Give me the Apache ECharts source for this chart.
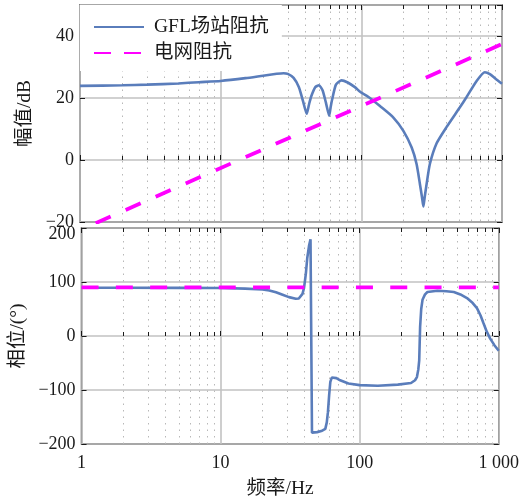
<!DOCTYPE html>
<html>
<head>
<meta charset="utf-8">
<script src="https://cdn.jsdelivr.net/npm/echarts@6/dist/echarts.min.js"></script>
<style>
  html, body { margin: 0; padding: 0; background: #fff; }
  #chart { width: 522px; height: 502px; }
</style>
</head>
<body>
<div id="chart"></div>
<script>
// Bode plot: GFL station impedance vs. grid impedance

// Magnitude of the GFL station impedance (Hz, dB)
const freqMag = [1, 2, 3, 5, 7, 10, 15, 20, 25, 28, 30, 33, 36, 38.5, 40.9, 42.5, 44, 47, 50, 53,
  56, 59.1, 60.5, 62, 66, 72.4, 80, 90, 98, 115, 135.6, 169, 199, 228, 247, 261, 270, 276, 282, 291,
  307, 343, 403, 502, 560, 660, 755, 820, 900, 1000];
const magGFL = [23.9, 24.1, 24.3, 24.7, 25.1, 25.5, 26.4, 27.2, 27.8, 28.0, 27.8, 26.5, 23.5, 19.0, 14.9, 18.0, 20.5, 23.5, 24.1, 22.5,
  18.5, 14.3, 17.0, 19.5, 24.3, 25.7, 25.0, 23.5, 22.0, 20.0, 17.4, 13.7, 9.4, 4.0, -1.3, -7.8, -12.0, -15.0, -12.0, -7.8,
  -1.3, 5.4, 10.6, 17.0, 20.3, 25.5, 28.3, 27.7, 26.2, 24.6];

// Phase of the GFL station impedance (Hz, degrees)
const freqPh = [1, 2, 5, 10, 15, 20, 22.4, 25, 27.9, 31, 34.7, 36.5, 37.7, 38.8, 39.8, 41, 42, 43.3, 44.3, 44.9,
  45.4, 49.4, 53, 56.6, 58, 59.1, 60.3, 61.5, 63, 64.9, 68, 72.4, 83, 100, 135, 188, 234, 250, 258, 264,
  268, 272, 277, 283, 295, 307, 362, 420, 475, 530, 591, 650, 697, 740, 777, 820, 866, 930, 1000];
const phaseGFL = [89.4, 89.4, 89.2, 89.0, 87.8, 86.0, 84.4, 81.0, 76.4, 72.0, 68.9, 69.5, 71.3, 78.0, 89.0, 115, 145, 168, 179, 180,
  -179, -178, -176, -172, -160, -141, -110, -85, -77, -75.8, -78, -82, -88, -91, -92, -90, -87, -82, -76, -62,
  -45, 17, 50, 67, 77, 81.4, 83.8, 83, 81.4, 77, 70.2, 61, 51.6, 38, 23.6, 8, -4.3, -17, -27.4];

// Grid impedance (purely inductive)
const freqGrid = [1, 1000];
const magGrid = [-22.6, 37.4];
const phaseGrid = [90, 90];

// Axis ticks
const minorFreqTicks = [2, 3, 4, 5, 6, 7, 8, 9, 20, 30, 40, 50, 60, 70, 80, 90, 200, 300, 400, 500, 600, 700, 800, 900];
const seriesNames = ['GFL场站阻抗', '电网阻抗'];

const pairs = (xs, ys) => xs.map((x, i) => [x, ys[i]]);

const SERIF = '"Liberation Serif", "Times New Roman", "Noto Sans CJK SC", serif';
const INK = '#1a1a1a';
const BLUE = '#5a7dbb';
const MAGENTA = '#ff00ff';
const tickLabel = { fontFamily: SERIF, fontSize: 18, color: INK };
const nameStyle = { fontFamily: SERIF, fontSize: 19.5, color: INK };
const minus = v => String(v).replace('-', '\u2212');

function freqAxes(gi, withLabels) {
  const base = { type: 'log', logBase: 10, gridIndex: gi, min: 1, max: 1000, axisLine: { show: false } };
  return [
    Object.assign({}, base, {
      position: 'bottom',
      axisTick: { show: true, inside: true, length: 5, lineStyle: { color: INK, width: 1 } },
      splitLine: { show: true, lineStyle: { color: '#c2c2c2', width: 1.6 } },
      axisLabel: {
        show: withLabels, margin: 10, ...tickLabel,
        formatter: v => (Math.round(v) === 1000 ? '1 000' : String(Math.round(v)))
      },
      name: withLabels ? '频率/Hz' : '',
      nameLocation: 'middle',
      nameGap: 35,
      nameTextStyle: Object.assign({ padding: [0, 20, 0, 0] }, nameStyle)
    }),
    Object.assign({}, base, {
      position: 'bottom',
      axisTick: { show: true, inside: true, length: 4, customValues: minorFreqTicks, lineStyle: { color: INK, width: 1 } },
      splitLine: { show: true, lineStyle: { color: '#b8b8b8', width: 1, type: [1.5, 5] } },
      axisLabel: { show: false }
    }),
    Object.assign({}, base, {
      position: 'top',
      axisTick: { show: true, inside: true, length: 5, lineStyle: { color: INK, width: 1 } },
      splitLine: { show: false },
      axisLabel: { show: false }
    }),
    Object.assign({}, base, {
      position: 'top',
      axisTick: { show: true, inside: true, length: 4, customValues: minorFreqTicks, lineStyle: { color: INK, width: 1 } },
      splitLine: { show: false },
      axisLabel: { show: false }
    })
  ];
}

function valueAxes(gi, min, max, interval, name, nameGap, hideMax) {
  const base = { type: 'value', gridIndex: gi, min: min, max: max, interval: interval, axisLine: { show: false } };
  return [
    Object.assign({}, base, {
      position: 'left',
      axisTick: { show: true, inside: true, length: 5, lineStyle: { color: INK, width: 1 } },
      splitLine: { show: true, lineStyle: { color: '#c2c2c2', width: 1.6 } },
      axisLabel: {
        margin: 6, showMaxLabel: !hideMax, ...tickLabel,
        // the top label of a panel sits just below the frame edge
        formatter: v => (v === max ? '{top|' + minus(v) + '}' : minus(v)),
        rich: { top: { fontFamily: SERIF, fontSize: 18, color: INK, padding: [12, 0, 0, 0] } }
      },
      name: name,
      nameLocation: 'middle',
      nameRotate: 90,
      nameGap: nameGap,
      nameTextStyle: nameStyle
    }),
    Object.assign({}, base, {
      position: 'right',
      axisTick: { show: true, inside: true, length: 5, lineStyle: { color: INK, width: 1 } },
      splitLine: { show: false },
      axisLabel: { show: false }
    })
  ];
}

const chart = echarts.init(document.getElementById('chart'), null, { renderer: 'canvas' });

chart.setOption({
  animation: false,
  backgroundColor: '#fff',
  grid: [
    { left: 80, top: 5, width: 422, height: 217, show: true, borderColor: '#222', borderWidth: 1.5, backgroundColor: 'transparent' },
    { left: 80, top: 228, width: 422, height: 216, show: true, borderColor: '#222', borderWidth: 1.5, backgroundColor: 'transparent' }
  ],
  xAxis: freqAxes(0, false).concat(freqAxes(1, true)),
  yAxis: valueAxes(0, -20, 50, 20, '幅值/dB', 36, true).concat(valueAxes(1, -200, 200, 100, '相位/(°)', 51, false)),
  legend: {
    left: 80,
    top: 5,
    orient: 'vertical',
    backgroundColor: '#fff',
    padding: [11, 13, 7, 13],
    itemWidth: 50,
    itemHeight: 14,
    itemGap: 4,
    itemStyle: { opacity: 0 },
    textStyle: { fontFamily: SERIF, fontSize: 19.5, lineHeight: 22, height: 22, color: INK, padding: [0, 0, 0, 5] },
    data: [
      { name: seriesNames[0] },
      { name: seriesNames[1], lineStyle: { type: [17, 13], dashOffset: 0 } }
    ]
  },
  series: [
    {
      name: seriesNames[0], type: 'line', xAxisIndex: 0, yAxisIndex: 0,
      data: pairs(freqMag, magGFL), symbol: 'none', smooth: 0.2,
      lineStyle: { color: BLUE, width: 2.6 }, itemStyle: { color: BLUE }, z: 3
    },
    {
      name: seriesNames[1], type: 'line', xAxisIndex: 0, yAxisIndex: 0,
      data: pairs(freqGrid, magGrid), symbol: 'none',
      lineStyle: { color: MAGENTA, width: 3.8, type: [16.4, 16.4], dashOffset: 15.7 }, itemStyle: { color: MAGENTA }, z: 4
    },
    {
      name: seriesNames[0], type: 'line', xAxisIndex: 4, yAxisIndex: 2,
      data: pairs(freqPh, phaseGFL), symbol: 'none', smooth: false,
      lineStyle: { color: BLUE, width: 2.6 }, itemStyle: { color: BLUE }, z: 3
    },
    {
      name: seriesNames[1], type: 'line', xAxisIndex: 4, yAxisIndex: 2,
      data: pairs(freqGrid, phaseGrid), symbol: 'none',
      lineStyle: { color: MAGENTA, width: 3.8, type: [17, 17.3] }, itemStyle: { color: MAGENTA }, z: 4
    }
  ]
});
</script>
</body>
</html>
